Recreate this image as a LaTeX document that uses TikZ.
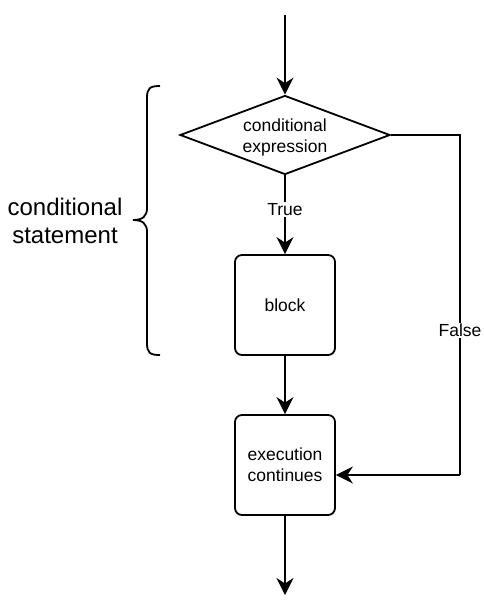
\documentclass[tikz,border=0pt]{standalone}
\usepackage{fontspec}
\setmainfont{Liberation Sans}
\usetikzlibrary{shapes.geometric,arrows.meta}
\begin{document}
\begin{tikzpicture}[x=1pt,y=-1pt,
  every node/.style={font=\fontsize{17.5}{21}\selectfont},
  line/.style={line width=1.8pt},
  arr/.style={line, -{Stealth[length=17pt,width=17pt,inset=5.5pt]}},
  boxnode/.style={draw,line width=1.8pt,rounded corners=7pt,minimum width=100pt,minimum height=100pt,align=center,inner sep=0pt},
  lbl/.style={fill=white,inner sep=1.5pt}]
\useasboundingbox (0,0) rectangle (483,611);
\node[draw,line width=1.8pt,diamond,aspect=2.66,minimum width=210pt,minimum height=79pt,inner sep=0pt,align=center] (dia) at (285,135) {};
\node[align=center] (dtx) at (285,137) {conditional\\expression};
\node[boxnode] (blk) at (285,305) {block};
\node[boxnode] (exe) at (285,465) {execution\\continues};
\coordinate (st) at (285,15);
\coordinate (en) at (285,595);
\coordinate (f1) at (460,135);
\coordinate (f2) at (460,475);
\draw[arr] (st) -- (dia.north);
\draw[arr] (dia.south) -- node[lbl,pos=0.43] (tl) {True} (blk.north);
\draw[arr] (blk.south) -- (exe.north);
\draw[arr] (exe.south) -- (en);
\draw[line] (dia.east) -- (f1) -- node[lbl,pos=0.575] (fl) {False} (f2);
\draw[arr] (f2) -- (f2 -| exe.east);
\draw[line width=1.8pt] (160,86) .. controls (150,86) and (147,88) .. (147,98) -- (147,208) .. controls (147,216) and (143,220) .. (133,220) .. controls (143,220) and (147,224) .. (147,232) -- (147,343) .. controls (147,353) and (150,355) .. (160,355);
\node[font=\fontsize{24}{28}\selectfont,align=center] (cs) at (65,221) {conditional\\statement};
\end{tikzpicture}
\end{document}
